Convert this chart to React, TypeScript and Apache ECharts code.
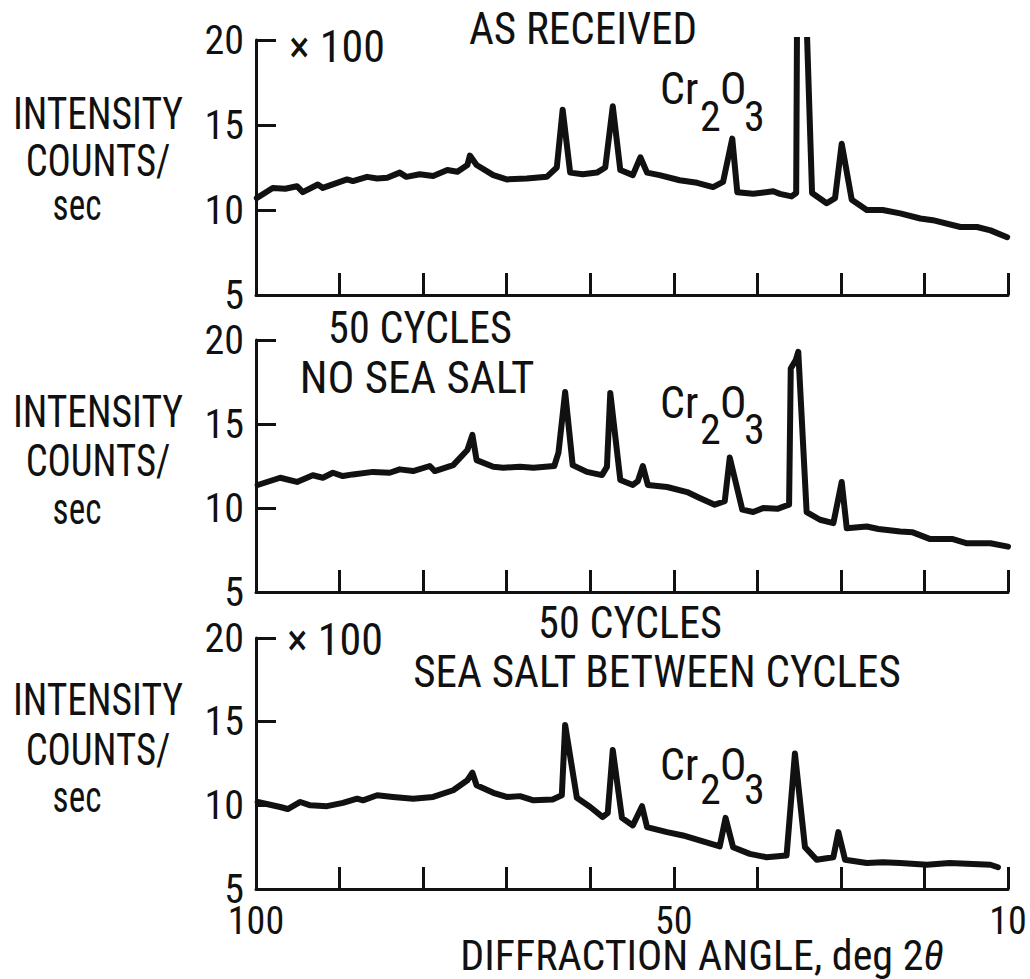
import React, { useEffect, useRef } from "react";
import * as echarts from "echarts";

// ---- Data (diffraction angle, deg 2θ  /  intensity, counts/sec × 100) ----
const anglesAsReceived = [
  99.9, 98.0, 96.5, 95.1, 94.4, 92.6, 92.0, 89.1, 88.4, 86.7, 85.5, 84.3, 82.8, 82.0, 80.4, 78.8,
  77.1, 75.9, 74.7, 74.4, 73.6, 71.6, 70.0, 67.6, 65.2, 64.0, 63.3, 62.4, 60.9, 59.2, 58.2, 57.3,
  56.4, 54.9, 54.0, 53.2, 51.7, 49.3, 47.2, 45.3, 44.1, 43.0, 42.4, 40.5, 38.1, 37.3, 35.9, 35.35,
  35.25, 34.1, 33.45, 31.7, 30.7, 29.9, 28.7, 26.9, 25.0, 22.9, 20.5, 19.0, 15.7, 13.7, 12.1, 10.1,
];
const countsAsReceived = [
  10.7, 11.3, 11.25, 11.4, 11.05, 11.5, 11.3, 11.8, 11.7, 11.95, 11.85, 11.9, 12.2, 11.95, 12.1, 12.0,
  12.35, 12.25, 12.65, 13.2, 12.65, 12.05, 11.8, 11.85, 11.95, 12.5, 15.9, 12.2, 12.1, 12.2, 12.5, 16.1,
  12.35, 12.05, 13.1, 12.2, 12.05, 11.75, 11.6, 11.35, 11.65, 14.2, 11.05, 10.95, 11.1, 10.95, 10.8, 11.0,
  21.0, 21.0, 11.0, 10.4, 10.7, 13.9, 10.6, 10.0, 10.0, 9.8, 9.5, 9.4, 9.0, 9.0, 8.8, 8.4,
];

const anglesNoSalt = [
  99.8, 97.1, 95.1, 93.2, 92.0, 90.8, 89.6, 88.4, 86.0, 84.0, 82.8, 81.2, 79.2, 78.6, 76.4, 74.7,
  74.1, 73.6, 71.6, 70.4, 68.4, 66.8, 64.3, 63.8, 63.0, 62.1, 60.4, 58.6, 58.0, 57.6, 56.4, 54.9,
  54.3, 53.7, 53.1, 50.8, 48.4, 46.9, 45.1, 43.9, 43.3, 41.8, 40.5, 39.3, 37.6, 36.2, 36.0, 35.4,
  35.1, 34.1, 32.5, 30.9, 29.9, 29.3, 26.9, 25.5, 22.9, 21.4, 19.3, 16.6, 14.9, 12.1, 10.0,
];
const countsNoSalt = [
  11.37, 11.8, 11.55, 11.95, 11.8, 12.1, 11.9, 12.0, 12.15, 12.1, 12.3, 12.2, 12.5, 12.2, 12.55, 13.45,
  14.35, 12.85, 12.45, 12.4, 12.45, 12.4, 12.5, 13.3, 16.9, 12.55, 12.15, 11.96, 12.45, 16.85, 11.67, 11.37,
  11.6, 12.5, 11.37, 11.25, 10.95, 10.6, 10.2, 10.4, 13.0, 9.9, 9.76, 10.0, 9.95, 10.2, 18.3, 18.8,
  19.3, 9.76, 9.3, 9.1, 11.55, 8.8, 8.9, 8.75, 8.6, 8.55, 8.15, 8.15, 7.9, 7.9, 7.7,
];

const anglesSeaSalt = [
  99.8, 97.1, 96.2, 94.7, 93.5, 91.5, 89.6, 87.9, 87.2, 85.5, 83.6, 81.2, 78.8, 76.4, 74.7, 74.1,
  73.6, 71.6, 70.0, 68.4, 66.8, 64.5, 63.4, 63.0, 61.6, 60.0, 58.5, 57.9, 57.3, 56.2, 54.9, 53.8,
  53.2, 50.8, 48.9, 46.9, 44.5, 43.8, 42.9, 40.9, 38.9, 36.5, 35.5, 34.3, 32.9, 30.9, 30.3, 29.5,
  26.9, 25.0, 22.9, 19.7, 17.0, 14.2, 12.1, 11.2,
];
const countsSeaSalt = [
  10.2, 9.9, 9.78, 10.2, 10.0, 9.95, 10.15, 10.4, 10.3, 10.6, 10.5, 10.4, 10.5, 10.9, 11.5, 11.95,
  11.2, 10.75, 10.5, 10.55, 10.3, 10.35, 10.6, 14.8, 10.45, 9.9, 9.3, 9.55, 13.3, 9.25, 8.8, 9.95,
  8.7, 8.4, 8.2, 7.9, 7.55, 9.25, 7.5, 7.1, 6.9, 7.0, 13.1, 7.5, 6.75, 6.9, 8.4, 6.75,
  6.55, 6.6, 6.55, 6.45, 6.55, 6.5, 6.45, 6.3,
];

const xLabelValues = [100, 50, 10];
const panelTitles = [["AS RECEIVED"], ["50 CYCLES", "NO SEA SALT"], ["50 CYCLES", "SEA SALT BETWEEN CYCLES"]];

// ---- Layout ----
const FONT =
  '"Roboto Condensed", "Noto Sans Condensed", "Liberation Sans Narrow", "DejaVu Sans Condensed", sans-serif';
const INK = "#111";
const GRIDS = [
  { left: 256, top: 40, width: 752, height: 255 },
  { left: 256, top: 340, width: 752, height: 252 },
  { left: 256, top: 638, width: 752, height: 251 },
];

function pairs(xs: number[], ys: number[]) {
  return xs.map((x, i) => [x, ys[i]]);
}

function txt(text: string, x: number, y: number, size: number, align = "center", sx = 1) {
  return {
    type: "text",
    x,
    y,
    scaleX: sx,
    style: {
      text,
      x: 0,
      y: 0,
      fill: INK,
      font: `${size}px ${FONT}`,
      lineHeight: size,
      textAlign: align,
      textVerticalAlign: "middle",
    },
  };
}

export default function App() {
  const ref = useRef<HTMLDivElement>(null);
  useEffect(() => {
    if (!ref.current) return;
    const chart = echarts.init(ref.current, undefined, { renderer: "svg" });
    const series = [
      pairs(anglesAsReceived, countsAsReceived),
      pairs(anglesNoSalt, countsNoSalt),
      pairs(anglesSeaSalt, countsSeaSalt),
    ];
    const graphics: any[] = [];
    const leftYs = [
      [114, 161, 205],
      [412, 461, 509],
      [700, 750, 797],
    ];
    leftYs.forEach((ys) => {
      graphics.push(txt("INTENSITY", 98, ys[0], 44, "center", 0.9));
      graphics.push(txt("COUNTS/", 98, ys[1], 44, "center", 0.88));
      graphics.push(txt("sec", 77, ys[2], 44, "center", 0.8));
    });
    graphics.push(txt("× 100", 289, 47, 44, "left", 1));
    graphics.push(txt("× 100", 287, 640, 44, "left", 1));
    graphics.push(txt(panelTitles[0][0], 583, 29, 44, "center", 0.98));
    graphics.push(txt(panelTitles[1][0], 420, 328, 44, "center", 0.96));
    graphics.push(txt(panelTitles[1][1], 417, 378, 44, "center", 1.02));
    graphics.push(txt(panelTitles[2][0], 630, 623, 44, "center", 0.96));
    graphics.push(txt(panelTitles[2][1], 657, 672, 44, "center", 0.98));
    const cr = [
      { y: 89, sub: 116 },
      { y: 403, sub: 429 },
      { y: 765, sub: 789 },
    ];
    cr.forEach((c) => {
      graphics.push(txt("Cr", 660, c.y, 44, "left", 1));
      graphics.push(txt("2", 700, c.sub, 42, "left", 1));
      graphics.push(txt("O", 720, c.y, 44, "left", 1));
      graphics.push(txt("3", 744, c.sub, 42, "left", 1));
    });
    graphics.push({
      type: "text",
      x: 702,
      y: 955,
      style: {
        text: "DIFFRACTION ANGLE, deg 2{i|θ}",
        x: 0,
        y: 0,
        fill: INK,
        font: `42px ${FONT}`,
        lineHeight: 34,
        textAlign: "center",
        textVerticalAlign: "middle",
        rich: { i: { fontStyle: "italic", fontSize: 42, lineHeight: 34, fontFamily: FONT, fill: INK } },
      },
    });

    chart.setOption({
      animation: false,
      backgroundColor: "#fff",
      grid: GRIDS.map((g) => ({ ...g, containLabel: false })),
      xAxis: GRIDS.map((_, i) => ({
        type: "value",
        gridIndex: i,
        min: 10,
        max: 100,
        interval: 10,
        inverse: true,
        axisLine: { show: true, onZero: false, lineStyle: { color: INK, width: 3 } },
        axisTick: { show: true, inside: true, length: 22, lineStyle: { color: INK, width: 3 } },
        splitLine: { show: false },
        axisLabel: {
          show: i === 2,
          color: INK,
          fontFamily: FONT,
          fontSize: 38,
          lineHeight: 28,
          margin: 18,
          showMinLabel: true,
          showMaxLabel: true,
          formatter: (v: number) => (xLabelValues.includes(v) ? String(v) : ""),
        },
      })),
      yAxis: GRIDS.map((_, i) => ({
        type: "value",
        gridIndex: i,
        min: 5,
        max: 20,
        interval: 5,
        axisLine: { show: true, lineStyle: { color: INK, width: 3 } },
        axisTick: { show: true, inside: true, length: 20, lineStyle: { color: INK, width: 3 } },
        splitLine: { show: false },
        axisLabel: { color: INK, fontFamily: FONT, fontSize: 40, lineHeight: 24, margin: 12 },
      })),
      series: series.map((d, i) => ({
        type: "line",
        xAxisIndex: i,
        yAxisIndex: i,
        data: d,
        showSymbol: false,
        symbol: "none",
        clip: true,
        lineStyle: { color: INK, width: 6, join: "round", cap: "round" },
        silent: true,
      })),
      graphic: graphics,
    });
    return () => chart.dispose();
  }, []);
  return (
    <div
      ref={ref}
      style={{ position: "fixed", left: 0, top: 0, width: 1030, height: 979, background: "#fff" }}
    />
  );
}
